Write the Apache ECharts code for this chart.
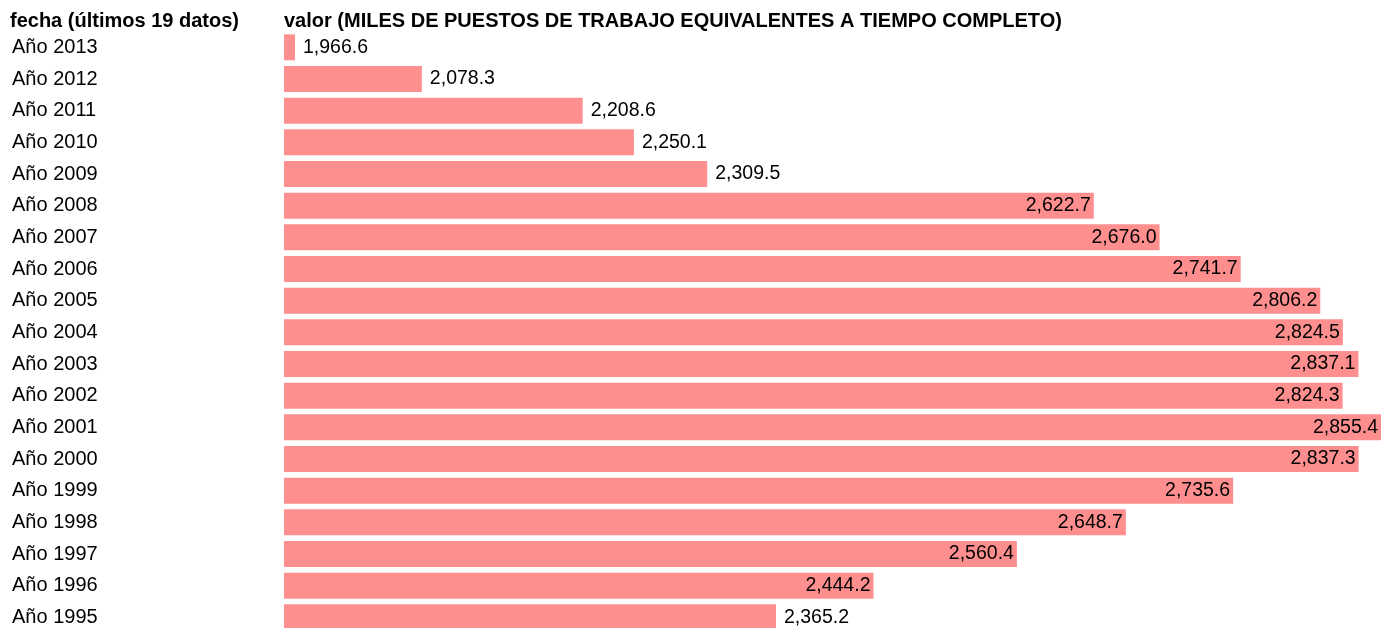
<!DOCTYPE html>
<html>
<head>
<meta charset="utf-8">
<script src="https://cdn.jsdelivr.net/npm/echarts@6/dist/echarts.min.js"></script>
<style>
html,body{margin:0;padding:0;background:#fff;}
#chart{width:1391px;height:628px;}
</style>
</head>
<body>
<div id="chart"></div>
<script>
var categories = ["Año 2013","Año 2012","Año 2011","Año 2010","Año 2009","Año 2008","Año 2007","Año 2006","Año 2005","Año 2004","Año 2003","Año 2002","Año 2001","Año 2000","Año 1999","Año 1998","Año 1997","Año 1996","Año 1995"];
var values = [1966.6,2078.3,2208.6,2250.1,2309.5,2622.7,2676.0,2741.7,2806.2,2824.5,2837.1,2824.3,2855.4,2837.3,2735.6,2648.7,2560.4,2444.2,2365.2];
var headerLeft = "fecha (últimos 19 datos)";
var headerRight = "valor (MILES DE PUESTOS DE TRABAJO EQUIVALENTES A TIEMPO COMPLETO)";

var vMin = Math.min.apply(null, values);
var vMax = Math.max.apply(null, values);
function fmt(v){ return v.toLocaleString('en-US',{minimumFractionDigits:1,maximumFractionDigits:1}); }

var data = values.map(function(v){
  var inside = (v - vMin) / (vMax - vMin) > 0.5;
  return {
    value: v,
    label: inside ? {position:'insideRight', distance:3} : {position:'right', distance:8}
  };
});

var FONT = "'Liberation Sans', Arial, sans-serif";
var chart = echarts.init(document.getElementById('chart'), null, {renderer:'canvas'});
chart.setOption({
  animation:false,
  title:[
    {text:headerLeft, left:10, top:11, padding:0, textStyle:{fontFamily:FONT,fontSize:20,fontWeight:'bold',color:'#000'}},
    {text:headerRight, left:284, top:11, padding:0, textStyle:{fontFamily:FONT,fontSize:20,fontWeight:'bold',color:'#000'}}
  ],
  grid:{left:284, top:31.5, width:1097, height:601.7, containLabel:false, outerBoundsMode:'none'},
  xAxis:{type:'value', min:vMin, max:vMax, startValue:vMin, show:false},
  yAxis:{
    type:'category', data:categories, inverse:true,
    axisLine:{show:false}, axisTick:{show:false}, splitLine:{show:false},
    axisLabel:{align:'left', margin:272, fontFamily:FONT, fontSize:20, color:'#000'}
  },
  series:[{
    type:'bar', data:data, barWidth:26, barMinHeight:11,
    itemStyle:{color:'#ff8f8f'},
    label:{show:true, fontFamily:FONT, fontSize:19.5, color:'#000',
      formatter:function(p){return fmt(p.value);}}
  }]
});
</script>
</body>
</html>
